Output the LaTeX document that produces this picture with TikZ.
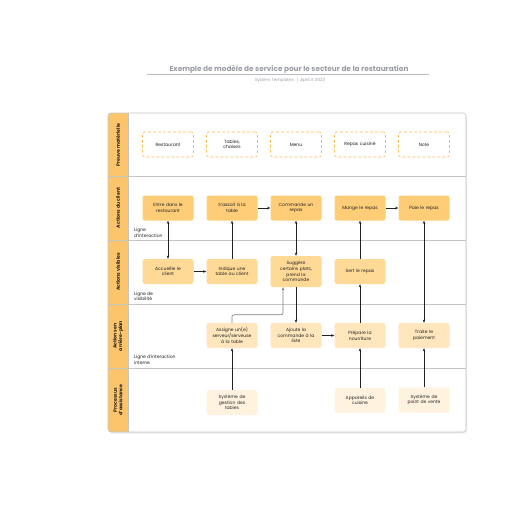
\documentclass[tikz,border=0pt]{standalone}
\usepackage{fontspec}
\setmainfont{Poppins}
\usetikzlibrary{arrows.meta}
\definecolor{lanebar}{HTML}{FDC56B}
\definecolor{custfill}{HTML}{FFCD78}
\definecolor{visfill}{HTML}{FFDA96}
\definecolor{backfill}{HTML}{FFE6BC}
\definecolor{supfill}{HTML}{FFF3E0}
\definecolor{propline}{HTML}{F8BE5A}
\definecolor{framegray}{HTML}{C4C4C4}
\definecolor{titlegray}{HTML}{9A9CA5}
\definecolor{inktext}{HTML}{222222}
\begin{document}
\begin{tikzpicture}[x=1pt,y=-1pt,
  boxtxt/.style={font=\fontsize{4.5}{5.6}\selectfont, text=inktext, align=center},
  card/.style={boxtxt, rounded corners=2.5pt, minimum width=51pt, minimum height=25pt, text width=47pt, inner sep=1pt},
  propcard/.style={card, draw=propline, dash pattern=on 3pt off 2pt, line width=0.6pt},
  custcard/.style={card, fill=custfill},
  viscard/.style={card, fill=visfill},
  backcard/.style={card, fill=backfill},
  supcard/.style={card, fill=supfill},
  lanename/.style={font=\bfseries\fontsize{4.7}{5.5}\selectfont, text=inktext, rotate=90, align=center},
  lineinfo/.style={font=\fontsize{4.5}{5.6}\selectfont, text=inktext, align=left, anchor=south west, inner sep=0pt},
  flow/.style={-{Stealth[length=3.2pt,width=2.6pt]}, line width=0.65pt, draw=inktext},
  twoway/.style={{Stealth[length=3.2pt,width=2.6pt]}-{Stealth[length=3.2pt,width=2.6pt]}, line width=0.65pt, draw=inktext},
  graylink/.style={flow, draw=gray, rounded corners=2pt}]
\useasboundingbox (0,0) rectangle (516,516);
\node[font=\bfseries\fontsize{7.3}{8}\selectfont, text=titlegray] (title) at (289,69.5) {Exemple de modèle de service pour le secteur de la restauration};
\draw[titlegray!70, line width=0.6pt] (147,74.5) -- (429,74.5);
\node[font=\fontsize{4.2}{5}\selectfont, text=titlegray] (subtitle) at (290,80.5) {System Templates \enspace|\enspace April 3, 2023};
\fill[black!8, rounded corners=3pt] (109,114.5) rectangle (467,433.5);
\begin{scope}
\clip[rounded corners=3pt] (108,113) rectangle (466,432);
\fill[white] (108,113) rectangle (466,432);
\fill[lanebar] (108,113) rectangle (128,432);
\end{scope}
\draw[framegray, line width=0.6pt] (108,176.5) -- (466,176.5);
\draw[framegray, line width=0.6pt] (108,240) -- (466,240);
\draw[framegray, line width=0.6pt] (108,304) -- (466,304);
\draw[framegray, line width=0.6pt] (108,368) -- (466,368);
\draw[framegray, line width=0.6pt] (128,113) -- (128,432);
\draw[framegray, line width=0.6pt, rounded corners=3pt] (108,113) rectangle (466,432);
\node[lanename] (lane1) at (118,145) {Preuve matérielle};
\node[lanename] (lane2) at (118,208) {Actions du client};
\node[lanename] (lane3) at (118,272) {Actions visibles};
\node[lanename] (lane4) at (118,336) {Actions en\\arrière-plan};
\node[lanename] (lane5) at (118,400) {Processus\\d'assistance};
\node[lineinfo] (interaction) at (134,237.5) {Ligne\\d'interaction};
\node[lineinfo] (visibility) at (134,301) {Ligne de\\visibilité};
\node[lineinfo] (internal) at (134,364.5) {Ligne d'interaction\\interne};
\node[propcard] (restaurant) at (168,144.5) {Restaurant};
\node[propcard] (tables) at (232,144.5) {Tables,\\chaises};
\node[propcard] (menu) at (296,144.5) {Menu};
\node[propcard] (dish) at (360,144.5) {Repas cuisiné};
\node[propcard] (bill) at (424,144.5) {Note};
\node[custcard] (enter) at (168,208) {Entre dans le\\restaurant};
\node[custcard] (sit) at (232,208) {S'assoit à la\\table};
\node[custcard] (order) at (296,208) {Commande un\\repas};
\node[custcard] (eat) at (360,208) {Mange le repas};
\node[custcard] (pay) at (424,208) {Paie le repas};
\node[viscard] (welcome) at (168,271.5) {Accueille le\\client};
\node[viscard] (seat) at (232,271.5) {Indique une\\table au client};
\node[viscard, minimum height=31pt] (suggest) at (296,271.5) {Suggère\\certains plats,\\prend la\\commande};
\node[viscard] (serve) at (360,271.5) {Sert le repas};
\node[backcard] (assign) at (232,335.5) {Assigne un(e)\\serveur/serveuse\\à la table};
\node[backcard] (queue) at (296,335.5) {Ajoute la\\commande à la\\liste};
\node[backcard] (cook) at (360,335.5) {Prépare la\\nourriture};
\node[backcard] (process) at (424,335.5) {Traite le\\paiement};
\node[supcard] (tablesys) at (232,402.5) {Système de\\gestion des\\tables};
\node[supcard] (kitchen) at (360,400.5) {Appareils de\\cuisine};
\node[supcard] (pos) at (424,400) {Système de\\point de vente};
\draw[flow] (sit) -- (order);
\draw[flow] (eat) -- (pay);
\draw[flow] (welcome) -- (seat);
\draw[flow] (queue) -- (cook);
\draw[twoway] (enter) -- (welcome);
\draw[flow] (seat) -- (sit);
\draw[twoway] (order) -- (suggest);
\draw[flow] (serve) -- (eat);
\draw[twoway] (pay) -- (process);
\draw[flow] (suggest) -- (queue);
\draw[flow] (cook) -- (serve);
\draw[flow] (tablesys) -- (assign);
\draw[flow] (kitchen) -- (cook);
\draw[flow] (pos) -- (process);
\draw[graylink] (assign.north) -- ++(0,-8) -| ([xshift=-13pt]suggest.south);
\end{tikzpicture}
\end{document}
